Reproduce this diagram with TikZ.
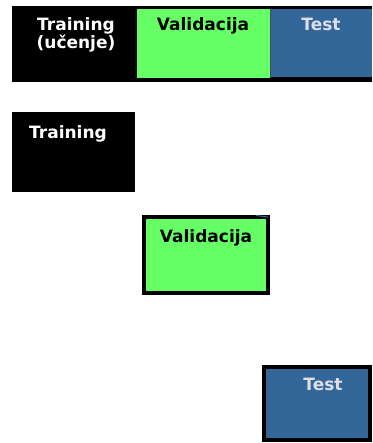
\documentclass[tikz,border=0pt]{standalone}
\usepackage{fontspec}
\setmainfont{DejaVu Sans}
\usepackage{xcolor}
\usetikzlibrary{positioning}
\definecolor{valgreen}{RGB}{102,255,102}
\definecolor{testblue}{RGB}{51,102,153}
\definecolor{testgray}{RGB}{222,222,230}

\begin{document}
\begin{tikzpicture}[x=1pt,y=-1pt,
  part/.style={anchor=north west, inner sep=0pt, outer sep=0pt},
  framed/.style={part, draw=black, line width=4pt},
  lbl/.style={font=\bfseries\fontsize{17}{18}\selectfont, anchor=base, inner sep=0pt, align=center}]
  \useasboundingbox (0,0) rectangle (372,443);
  % split bar on top
  \node[part, fill=black, minimum width=360pt, minimum height=76pt] (bar) at (12,6) {};
  \node[part, fill=valgreen, minimum width=133pt, minimum height=69pt] (barval) at (137,9) {};
  \node[part, fill=testblue, minimum width=101pt, minimum height=68pt] (bartest) at (271,9) {};
  \draw[black!70, line width=0.8pt] (barval.north east) -- (barval.south east);
  \node[lbl, text=white] (bartraintxt) at (76,49) {Training\\(učenje)};
  \node[lbl, text=black] (barvaltxt) at (203,31) {Validacija};
  \node[lbl, text=testgray] (bartesttxt) at (321,31) {Test};
  % separate parts
  \node[part, fill=black, minimum width=123pt, minimum height=80pt] (train) at (12,112) {};
  \node[lbl, text=white] (traintxt) at (68,139) {Training};
  \node[framed, fill=valgreen, minimum width=124pt, minimum height=76pt] (val) at (144,217) {};
  \draw[testblue, line width=1pt] (256,215.5) -- (val.north east);
  \node[lbl, text=black] (valtxt) at (206,242) {Validacija};
  \node[framed, fill=testblue, minimum width=106pt, minimum height=73pt] (test) at (264,367) {};
  \node[lbl, text=testgray] (testtxt) at (323,390) {Test};
\end{tikzpicture}
\end{document}
